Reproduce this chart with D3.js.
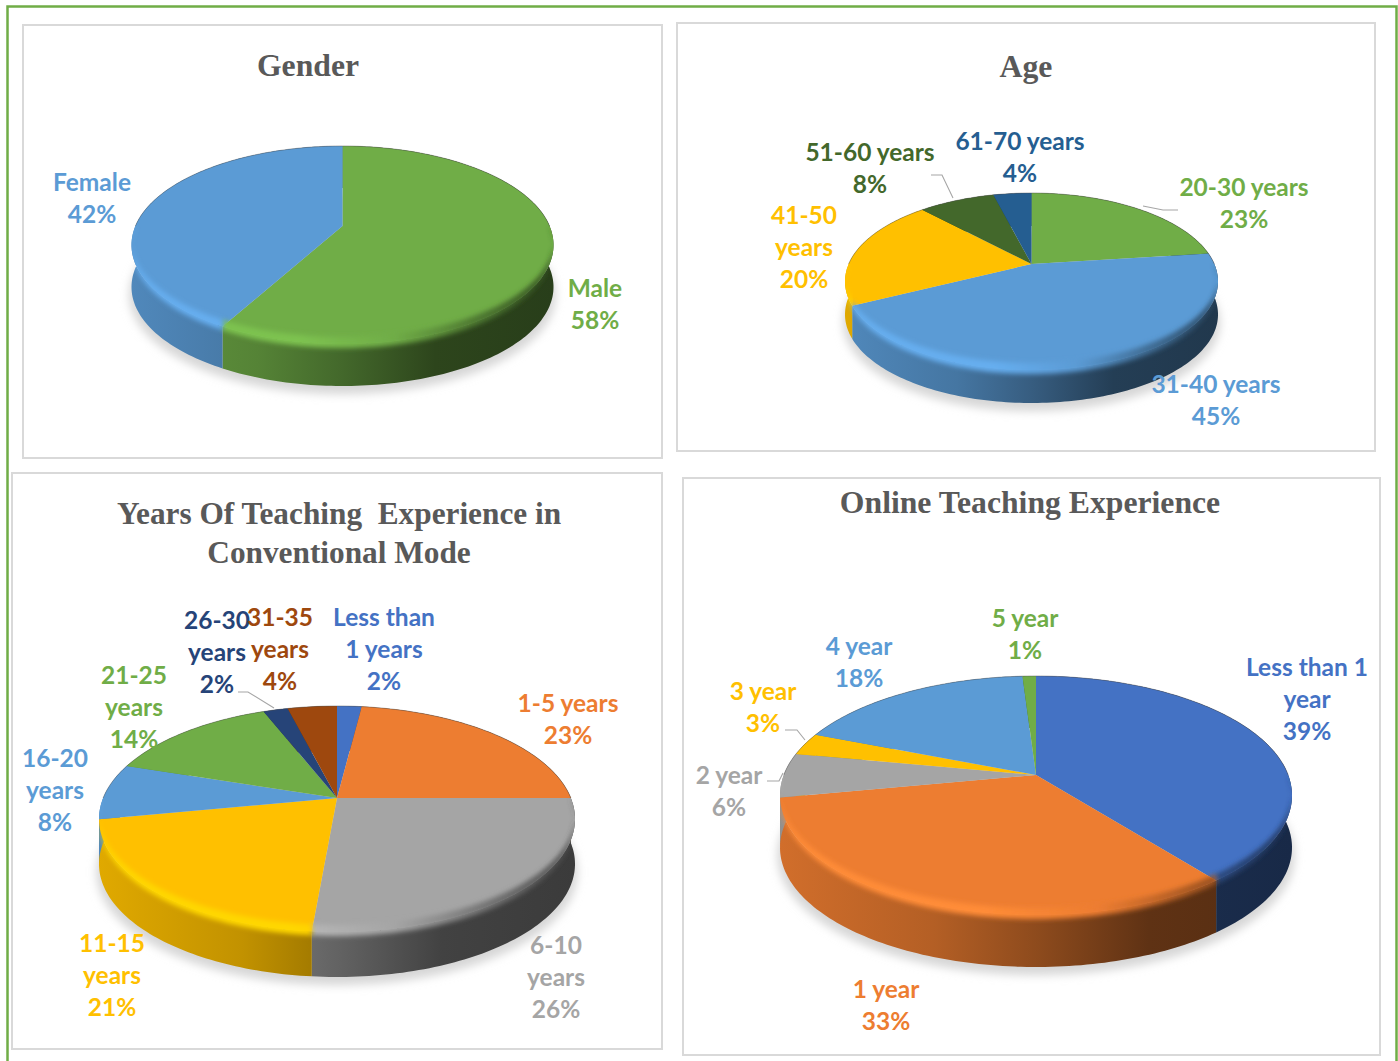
<!DOCTYPE html>
<html>
<head>
<meta charset="utf-8">
<script src="https://cdnjs.cloudflare.com/ajax/libs/d3/7.8.5/d3.min.js"></script>
<style>
html, body { margin: 0; padding: 0; background: #fff; }
svg { display: block; }
.title { font-family: "Liberation Serif", serif; font-weight: bold; fill: #595959; text-anchor: middle; }
.lbl { font-family: Lato, "Noto Sans", sans-serif; font-weight: 700; text-anchor: middle; }
</style>
</head>
<body>
<div id="chart"></div>
<script>
// values, clockwise from 12 o'clock
// (slice sizes estimated to a tenth from the drawn angles, labels show them rounded)
let genderCats = ["Male", "Female"];
let genderVals = [58, 42];
let genderCols = ["#70ad47", "#5b9bd5"];

let ageCats = ["20-30 years", "31-40 years", "41-50\nyears", "51-60 years", "61-70 years"];
let ageVals = [23, 44.6, 20.4, 8, 4];
let ageCols = ["#70ad47", "#5b9bd5", "#ffc000", "#43682b", "#255e91"];

let teachCats = ["Less than\n1 years", "1-5 years", "6-10\nyears", "11-15\nyears", "16-20\nyears", "21-25\nyears", "26-30\nyears", "31-35\nyears"];
let teachVals = [2, 23, 26.4, 20.6, 8, 14, 2, 4];
let teachCols = ["#4472c4", "#ed7d31", "#a5a5a5", "#ffc000", "#5b9bd5", "#70ad47", "#264478", "#9e480e"];

let onlineCats = ["Less than 1\nyear", "1 year", "2 year", "3 year", "4 year", "5 year"];
let onlineVals = [39.4, 32.6, 6, 3, 18, 1];
let onlineCols = ["#4472c4", "#ed7d31", "#a5a5a5", "#ffc000", "#5b9bd5", "#70ad47"];

let W = 1398, H = 1061;

let svg = d3.select("#chart").append("svg").attr("width", W).attr("height", H);
let defs = svg.append("defs");
defs.append("filter").attr("id", "blur6").attr("x", "-10%").attr("y", "-10%").attr("width", "120%").attr("height", "120%")
    .append("feGaussianBlur").attr("stdDeviation", 5);
defs.append("filter").attr("id", "blur2").attr("x", "-5%").attr("y", "-40%").attr("width", "110%").attr("height", "180%")
    .append("feGaussianBlur").attr("stdDeviation", 2.6);

// frames
let panels = [[23, 25, 639, 433], [677, 23, 698, 428], [12, 473, 650, 576], [683, 478, 697, 577]];
svg.selectAll("rect.panel").data(panels).enter().append("rect")
    .attr("class", "panel")
    .attr("x", d => d[0]).attr("y", d => d[1]).attr("width", d => d[2]).attr("height", d => d[3])
    .attr("fill", "none").attr("stroke", "#d9d9d9").attr("stroke-width", 2);

// outer green border, open at the bottom
svg.append("path").attr("d", "M7.5,1061V6.5H1396.5V1061").attr("fill", "none").attr("stroke", "#70ad47").attr("stroke-width", 2.5);

function shade(col, k) {
    let c = d3.rgb(col);
    return d3.rgb(Math.min(255, c.r * k), Math.min(255, c.g * k), Math.min(255, c.b * k)).formatHex();
}

let line = d3.line().x(d => d[0]).y(d => d[1]);
let pieGen = d3.pie().sort(null).value(d => d);

// g: cx, ay (apex y), top, bot (rim y at back / front), rx, depth
function drawPie(id, vals, cols, g) {
    let A = 2 / (1 / (g.ay - g.top) + 1 / (g.bot - g.ay));
    let p = 1 - A / (g.ay - g.top);
    let B = g.rx * Math.sqrt(1 - p * p);

    // perspective map of the unit circle onto the top face
    function rim(t) {
        let u = Math.sin(t), v = -Math.cos(t), w = 1 + p * v;
        return [g.cx + B * u / w, g.ay + A * v / w];
    }
    function samples(a0, a1) {
        let n = Math.max(2, Math.ceil((a1 - a0) / 0.02));
        return d3.range(n + 1).map(i => a0 + (a1 - a0) * i / n);
    }

    let arcs = pieGen(vals);
    let root = svg.append("g").attr("class", "pie-" + id);

    // soft shadow under the disc
    let whole = samples(0, 2 * Math.PI).map(rim);
    root.append("path")
        .attr("d", line(whole.map(d => [d[0] + (d[0] - g.cx) * 0.01, d[1] + g.depth + 8])) + "Z")
        .attr("fill", "#d6d6d6").attr("filter", "url(#blur6)");

    let clip = defs.append("clipPath").attr("id", "clip-" + id);
    clip.append("path").attr("d", line(whole) + "Z");

    arcs.forEach((a, i) => {
        let grad = defs.append("linearGradient").attr("id", "wall-" + id + i)
            .attr("gradientUnits", "userSpaceOnUse")
            .attr("x1", g.cx - g.rx).attr("x2", g.cx + g.rx).attr("y1", 0).attr("y2", 0);
        [[0, .88], [.3, .76], [.5, .6], [.72, .4], [1, .36]].forEach(s =>
            grad.append("stop").attr("offset", s[0]).attr("stop-color", shade(cols[i], s[1])));

        let band = defs.append("linearGradient").attr("id", "band-" + id + i)
            .attr("gradientUnits", "userSpaceOnUse")
            .attr("x1", g.cx - g.rx).attr("x2", g.cx + g.rx).attr("y1", 0).attr("y2", 0);
        [[0, 1.12], [.4, 1.12], [.62, 1], [.8, .72], [1, .45]].forEach(s =>
            band.append("stop").attr("offset", s[0]).attr("stop-color", shade(cols[i], s[1])));

        let upper = samples(a.startAngle, a.endAngle).map(rim);
        let lower = upper.map(d => [d[0], d[1] + g.depth]).reverse();
        let wall = line(upper.concat(lower)) + "Z";
        clip.append("path").attr("d", wall);
        root.append("path").attr("d", wall).attr("fill", "url(#wall-" + id + i + ")");
    });

    // top face
    arcs.forEach((a, i) => {
        let pts = [[g.cx, g.ay]].concat(samples(a.startAngle, a.endAngle).map(rim));
        root.append("path").attr("d", line(pts) + "Z").attr("fill", cols[i]);
    });

    // rounded bevel along the front rim
    let bevel = root.append("g").attr("clip-path", "url(#clip-" + id + ")");
    arcs.forEach((a, i) => {
        let t0 = Math.max(a.startAngle, Math.PI / 2), t1 = Math.min(a.endAngle, 3 * Math.PI / 2);
        if (t1 <= t0) return;
        let ts = samples(t0, t1);
        let thick = t => Math.sqrt(Math.max(0, -Math.cos(t)));
        let outer = ts.map(t => { let r = rim(t); return [r[0], r[1] + 4 * thick(t)]; });
        let inner = ts.map(t => { let r = rim(t); return [r[0], r[1] - 7 * thick(t)]; }).reverse();
        bevel.append("path").attr("d", line(outer.concat(inner)) + "Z")
            .attr("fill", "url(#band-" + id + i + ")").attr("filter", "url(#blur2)");
    });

    // thin dark edge along the back of the rim
    let back = samples(-Math.PI / 2, Math.PI / 2).map(rim);
    root.append("path").attr("d", line(back)).attr("fill", "none").attr("stroke", "#4a4a4a").attr("stroke-width", 0.7).attr("stroke-opacity", 0.6);
}

function drawLabels(cats, vals, cols, at) {
    cats.forEach((c, i) => {
        let rows = c.split("\n").concat([Math.round(vals[i]) + "%"]);
        let t = svg.append("text").attr("class", "lbl").attr("fill", cols[i]).attr("font-size", 24.5);
        rows.forEach((r, j) => {
            t.append("tspan").attr("x", at[i][0]).attr("y", at[i][1] + j * 32 + 8.5).text(r);
        });
    });
}

function drawTitle(rows, x, y, size) {
    rows.forEach((r, j) => {
        svg.append("text").attr("class", "title").attr("font-size", size)
            .attr("x", x).attr("y", y + j * 39 + 10).attr("xml:space", "preserve").text(r);
    });
}

function drawLeaders(list) {
    svg.selectAll(null).data(list).enter().append("path")
        .attr("d", d => line(d)).attr("fill", "none").attr("stroke", "#a6a6a6").attr("stroke-width", 1.1);
}

drawPie("gender", genderVals, genderCols, { cx: 342.5, ay: 226, top: 146, bot: 344, rx: 211, depth: 42 });
drawPie("age", ageVals, ageCols, { cx: 1031.5, ay: 264, top: 193, bot: 370, rx: 186.5, depth: 33 });
drawPie("teach", teachVals, teachCols, { cx: 337, ay: 798, top: 706, bot: 932, rx: 238, depth: 45 });
drawPie("online", onlineVals, onlineCols, { cx: 1036, ay: 775, top: 676, bot: 915, rx: 256, depth: 52 });

drawTitle(["Gender"], 308, 66, 31.7);
drawTitle(["Age"], 1026, 67, 31.7);
drawTitle(["Years Of Teaching  Experience in", "Conventional Mode"], 339, 514, 31.3);
drawTitle(["Online Teaching Experience"], 1030, 503, 31.7);

drawLabels(genderCats, genderVals, genderCols, [[595, 288], [92, 182]]);
drawLabels(ageCats, ageVals, ageCols, [[1244, 187], [1216, 384], [804, 215], [870, 152], [1020, 141]]);
drawLabels(teachCats, teachVals, teachCols, [[384, 617], [568, 703], [556, 945], [112, 943], [55, 758], [134, 675], [217, 620], [280, 617]]);
drawLabels(onlineCats, onlineVals, onlineCols, [[1307, 667], [886, 989], [729, 775], [763, 691], [859, 646], [1025, 618]]);

drawLeaders([
    [[931, 175], [942, 175], [953, 198]],
    [[1143, 206], [1163, 210], [1178, 210]],
    [[238, 692], [248, 692], [274, 708]],
    [[785, 730], [797, 730], [805, 740]],
    [[767, 781], [779, 781], [783, 773]]
]);
</script>
</body>
</html>
